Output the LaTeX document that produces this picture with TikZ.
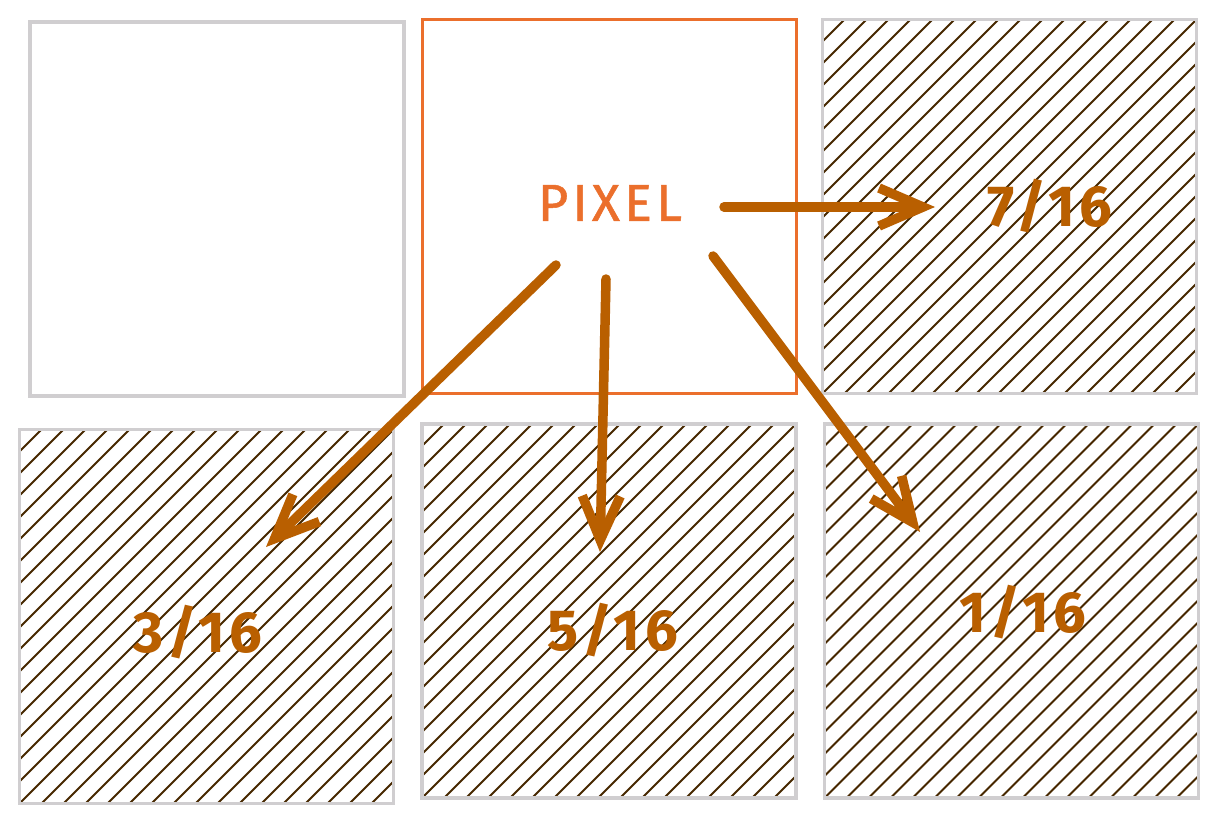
\documentclass[tikz,border=0pt]{standalone}
\usepackage{fontspec}
\setmainfont{Fira Sans}
\usetikzlibrary{arrows.meta}
\definecolor{boxgray}{HTML}{D0CED0}
\definecolor{pixorange}{HTML}{EB6F2C}
\definecolor{arrowbrown}{HTML}{B95F00}
\definecolor{hatchbrown}{HTML}{472800}
\begin{document}
\begin{tikzpicture}[x=1pt,y=-1pt,
  cell/.style={rectangle, draw=boxgray, line width=3.5pt, minimum size=374pt, inner sep=0pt},
  pixcell/.style={cell, draw=pixorange, line width=3pt},
  hatched/.style={cell, path picture={
      \foreach \i in {-440,-418,...,440} {
        \draw[hatchbrown, line width=2pt]
          ([xshift=\i pt-220pt, yshift=-220pt]path picture bounding box.center) --
          ([xshift=\i pt+220pt, yshift=220pt]path picture bounding box.center);
      }}},
  pixtext/.style={text=pixorange, font=\fontsize{52}{60}\selectfont\addfontfeatures{LetterSpace=8,FakeBold=1}, inner sep=0pt},
  numtext/.style={text=arrowbrown, font=\fontsize{58}{66}\selectfont\bfseries\addfontfeatures{LetterSpace=8}, inner sep=0pt},
  arr/.style={draw=arrowbrown, line width=9.5pt, line cap=round, line join=round,
    -{Straight Barb[length=44pt, width=38pt]}}
]
\fill[white] (0,0) rectangle (1218,824);
\useasboundingbox (0,0) rectangle (1218,824);

\node[cell] (b1) at (217,209) {};
\node[pixcell] (b2) at (609,206.5) {};
\node[hatched] (b3) at (1009.5,206.5) {};
\node[hatched] (b4) at (206.5,616.5) {};
\node[hatched] (b5) at (609,611) {};
\node[hatched] (b6) at (1011.5,611) {};

\node[pixtext] (pix) at (610,203) {PIXEL};
\node[numtext] (n7) at (1050,206) {7/16};
\node[numtext] (n3) at (198,632) {3/16};
\node[numtext] (n5) at (613,630) {5/16};
\node[numtext] (n1) at (1023,612) {1/16};

\coordinate (s1) at (724,207);
\coordinate (e1) at (935,207);
\coordinate (s2) at (556,265);
\coordinate (e2) at (266,547);
\coordinate (s3) at (606,279);
\coordinate (e3) at (600,552);
\coordinate (s4) at (713,256);
\coordinate (e4) at (920,532);

\draw[arr] (s1) -- (e1);
\draw[arr] (s2) -- (e2);
\draw[arr] (s3) -- (e3);
\draw[arr] (s4) -- (e4);
\end{tikzpicture}
\end{document}
